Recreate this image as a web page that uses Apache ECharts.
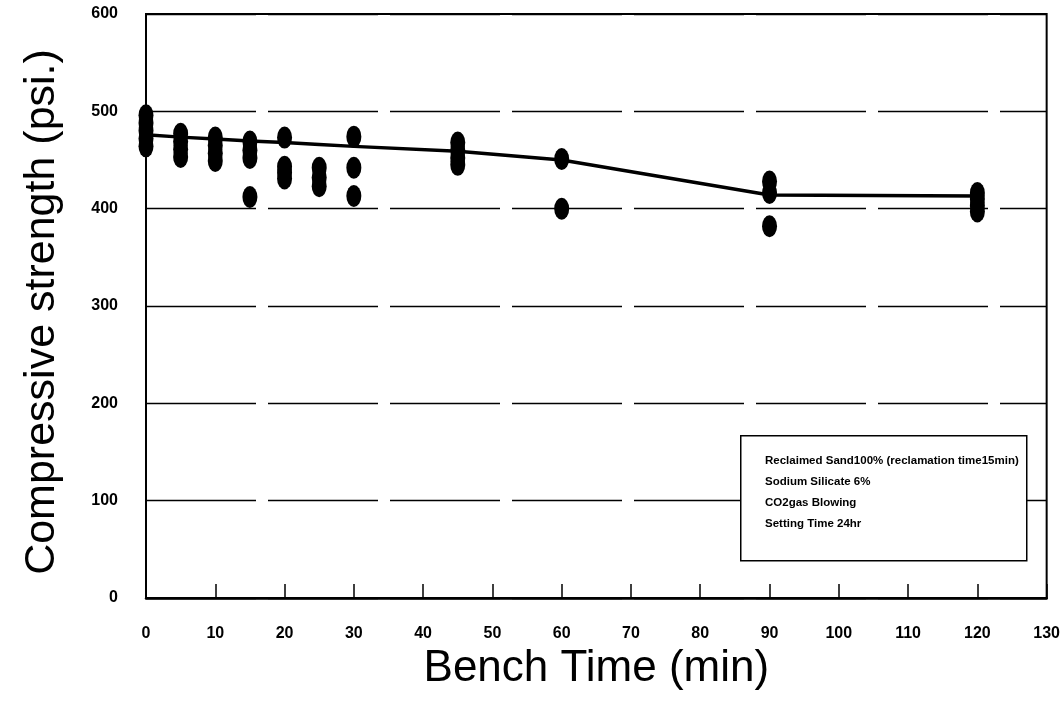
<!DOCTYPE html>
<html>
<head>
<meta charset="utf-8">
<script src="https://cdn.jsdelivr.net/npm/echarts@6/dist/echarts.min.js"></script>
<style>
html,body{margin:0;padding:0;background:#fff;}
#chart{width:1063px;height:713px;}
</style>
</head>
<body>
<div id="chart"></div>
<script>
// Bench time (min) of each sample group
const benchTimes = [0, 5, 10, 15, 20, 25, 30, 45, 60, 90, 120];
// Measured compressive strengths (psi.) at each bench time
const strength0 = [496, 488, 480, 472, 464];
const strength5 = [477, 469, 461, 453];
const strength10 = [473, 465, 457, 449];
const strength15 = [469, 460, 452, 412];
const strength20 = [473, 443, 437, 431];
const strength25 = [442, 432, 423];
const strength30 = [474, 442, 413];
const strength45 = [468, 460, 452, 445];
const strength60 = [451, 400];
const strength90 = [428, 416, 382];
const strength120 = [416, 410, 403, 397];
const strengthGroups = [strength0, strength5, strength10, strength15, strength20, strength25, strength30, strength45, strength60, strength90, strength120];
// Trend line (psi.)
const trendLine = [476, 473.5, 471.5, 469.5, 468, 466, 464, 459, 450, 414, 413];
// Axis ticks
const xTicks = [0, 10, 20, 30, 40, 50, 60, 70, 80, 90, 100, 110, 120, 130];
const yTicks = [0, 100, 200, 300, 400, 500, 600];
const noteLines = [
  'Reclaimed Sand100% (reclamation time15min)',
  'Sodium Silicate 6%',
  'CO2gas Blowing',
  'Setting Time 24hr'
];

const scatterData = [];
benchTimes.forEach((t, i) => strengthGroups[i].forEach(v => scatterData.push([t, v])));
const lineData = benchTimes.map((t, i) => [t, trendLine[i]]);

const chart = echarts.init(document.getElementById('chart'));
chart.setOption({
  animation: false,
  backgroundColor: '#fff',
  grid: { left: 146, right: 13, top: 14, bottom: 115, show: true, borderColor: '#000', borderWidth: 2, backgroundColor: 'transparent' },
  xAxis: {
    type: 'value', min: xTicks[0], max: xTicks[xTicks.length - 1], interval: 10,
    name: 'Bench Time (min)', nameLocation: 'middle', nameGap: 38,
    nameTextStyle: { fontFamily: 'Liberation Sans, Arial', fontSize: 44, color: '#000' },
    axisLine: { lineStyle: { color: '#000', width: 2.5 } },
    axisTick: { show: true, inside: true, length: 14, lineStyle: { color: '#000', width: 1.5 } },
    axisLabel: { margin: 28, color: '#000', fontFamily: 'Liberation Sans, Arial', fontWeight: 'bold', fontSize: 16 },
    splitLine: { show: false }
  },
  yAxis: {
    type: 'value', min: yTicks[0], max: yTicks[yTicks.length - 1], interval: 100,
    name: 'Compressive strength (psi.)', nameLocation: 'middle', nameGap: 82,
    nameTextStyle: { fontFamily: 'Liberation Sans, Arial', fontSize: 43, color: '#000', padding: [0, 12, 0, 0] },
    axisLine: { lineStyle: { color: '#000', width: 2 } },
    axisTick: { show: false },
    axisLabel: { margin: 28, color: '#000', fontFamily: 'Liberation Sans, Arial', fontWeight: 'bold', fontSize: 16 },
    splitLine: { show: true, lineStyle: { color: '#000', width: 1.3, type: [110, 12] } }
  },
  series: [
    {
      type: 'line', data: lineData, showSymbol: false, symbol: 'none',
      lineStyle: { color: '#000', width: 3.5 }, z: 3
    },
    {
      type: 'scatter', data: scatterData, symbol: 'circle', symbolSize: [15, 22],
      itemStyle: { color: '#000', opacity: 1 }, z: 4
    }
  ],
  graphic: [
    {
      type: 'rect', left: 740, top: 435, z: 100,
      shape: { x: 0, y: 0, width: 286, height: 125 },
      style: { fill: '#fff', stroke: '#000', lineWidth: 1.5 }
    },
    {
      type: 'text', left: 765, top: 450, z: 101,
      style: { text: noteLines.join('\n'), fill: '#000', font: 'bold 11.5px "Liberation Sans", Arial', lineHeight: 21 }
    }
  ]
});
</script>
</body>
</html>
